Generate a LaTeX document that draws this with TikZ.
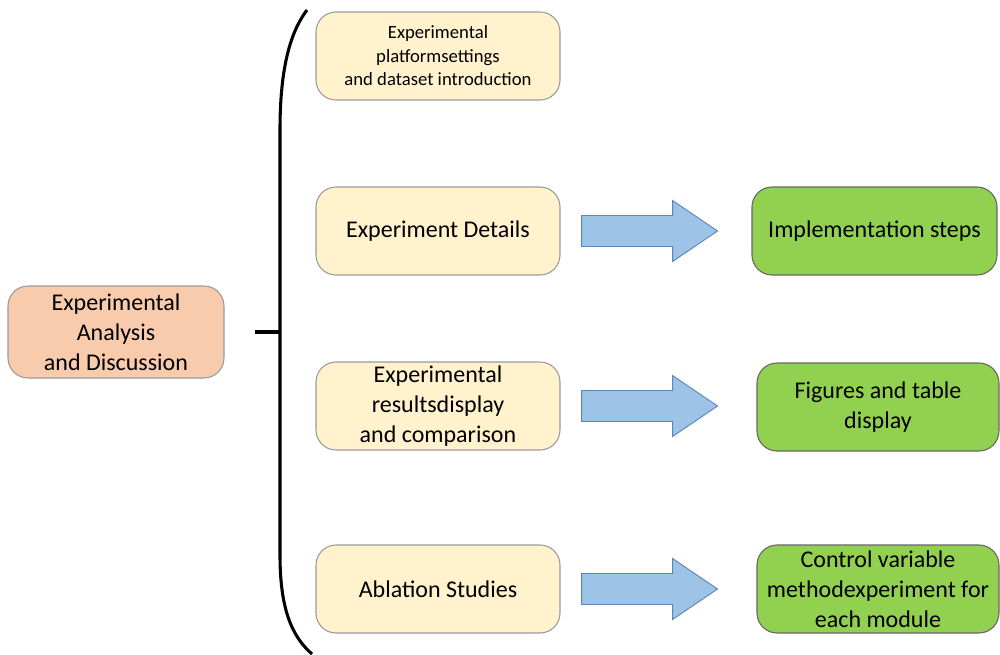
\documentclass[tikz,border=0pt]{standalone}
\usepackage{fontspec}
\setmainfont{Carlito}
\usetikzlibrary{calc}
\definecolor{salmon}{HTML}{F8CBAD}
\definecolor{cream}{HTML}{FFF2CC}
\definecolor{leaf}{HTML}{92D050}
\definecolor{sky}{HTML}{9DC3E6}
\definecolor{skyline}{HTML}{5B86B5}
\definecolor{edge}{HTML}{9A9A9A}
\tikzset{
  box/.style={draw=edge, line width=0.8pt, rounded corners=15pt, align=center,
    inner sep=2pt, font=\fontsize{18}{22.5}\selectfont, text=black},
  rootbox/.style={box, fill=salmon, minimum width=162pt, minimum height=69pt},
  stagebox/.style={box, fill=cream, minimum width=183pt, minimum height=66pt},
  resultbox/.style={box, fill=leaf, draw=gray!80!black, minimum height=66pt},
  blockarrow/.style={draw=skyline, fill=sky, line width=0.7pt, line join=miter},
  bracket/.style={draw=black, line width=2.3pt}
}
\begin{document}
\begin{tikzpicture}[x=0.75pt,y=-0.75pt]
\useasboundingbox (0,0) rectangle (1000,654);

% root node
\node[rootbox] (root) at (116,332) {Experimental\\Analysis\\and Discussion};

% stage nodes
\node[stagebox, font=\fontsize{14}{17.6}\selectfont] (s1) at (438,56)
  {Experimental\\platformsettings\\and dataset introduction};
\node[stagebox] (s2) at (438,231) {Experiment Details};
\node[stagebox] (s3) at (438,406) {Experimental\\resultsdisplay\\and comparison};
\node[stagebox] (s4) at (438,589) {Ablation Studies};

% result nodes
\node[resultbox, minimum width=183.75pt] (r2) at (874.5,231) {Implementation steps};
\node[resultbox, minimum width=181.5pt] (r3) at (878,407) {Figures and table\\display};
\node[resultbox, minimum width=181.5pt] (r4) at (878,589) {Control variable\\methodexperiment for\\each module};

% bracket gathering the stages
\coordinate (btop) at (307,10);
\coordinate (bbot) at (312,654);
\coordinate (bmid) at (280,332);
\draw[bracket] (btop) .. controls (288,35) and (280,75) .. (280,130)
  -- (280,555) .. controls (280,605) and (290,635) .. (bbot);
\draw[bracket] (root.east) ++(30,0) -- (bmid);

% block arrows from stages to results
\foreach \s/\r in {s2/r2, s3/r3, s4/r4}{
  \path (\s.east) ++(21,0) coordinate (a0);
  \draw[blockarrow] ($(a0)+(0,-15.5)$) -- ++(91,0) -- ++(0,-15)
    -- ($(a0)+(136,0)$) -- ($(a0)+(91,30.5)$) -- ++(0,-15) -- ($(a0)+(0,15.5)$) -- cycle;
}
\end{tikzpicture}
\end{document}
